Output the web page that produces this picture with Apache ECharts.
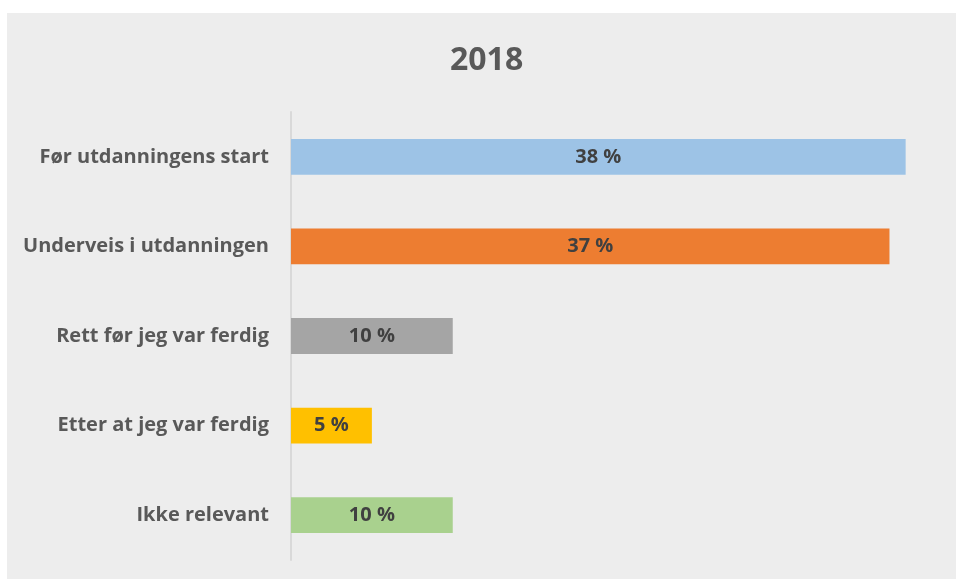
<!DOCTYPE html>
<html>
<head>
<meta charset="utf-8">
<script src="https://cdn.jsdelivr.net/npm/echarts@6/dist/echarts.min.js"></script>
<style>
  html, body { margin: 0; padding: 0; background: #ffffff; }
  #main { position: absolute; left: 7px; top: 13px; width: 949px; height: 566px; background: #ededed; }
</style>
</head>
<body>
<div id="main"></div>
<script>
const categories = ['Før utdanningens start', 'Underveis i utdanningen', 'Rett før jeg var ferdig', 'Etter at jeg var ferdig', 'Ikke relevant'];
const values = [38, 37, 10, 5, 10];
const barColors = ['#9dc3e6', '#ed7d31', '#a5a5a5', '#ffc000', '#a9d18e'];

let chartDom = document.getElementById('main');
let myChart = echarts.init(chartDom);
let option;

option = {
    backgroundColor: '#ededed',
    title: {
        text: '2018',
        left: 438,
        top: 27,
        textStyle: {
            fontFamily: 'Open Sans',
            fontWeight: 'bold',
            fontSize: 32,
            color: '#595959'
        }
    },
    grid: {
        left: 284,
        right: 18,
        top: 99,
        bottom: 19,
        containLabel: false
    },
    xAxis: {
        type: 'value',
        min: 0,
        max: 40,
        show: false
    },
    yAxis: {
        type: 'category',
        data: categories,
        inverse: true,
        axisLine: { show: true, lineStyle: { color: '#d9d9d9', width: 2 } },
        axisTick: { show: false },
        axisLabel: {
            margin: 22,
            fontFamily: 'Open Sans',
            fontWeight: 'bold',
            fontSize: 20,
            color: '#595959'
        }
    },
    series: [{
        type: 'bar',
        data: values.map((v, i) => ({ value: v, itemStyle: { color: barColors[i] } })),
        barWidth: '40%',
        label: {
            show: true,
            position: 'inside',
            formatter: '{c} %',
            fontFamily: 'Open Sans',
            fontWeight: 'bold',
            fontSize: 20,
            color: '#404040'
        }
    }]
};
option && myChart.setOption(option);
</script>
</body>
</html>
